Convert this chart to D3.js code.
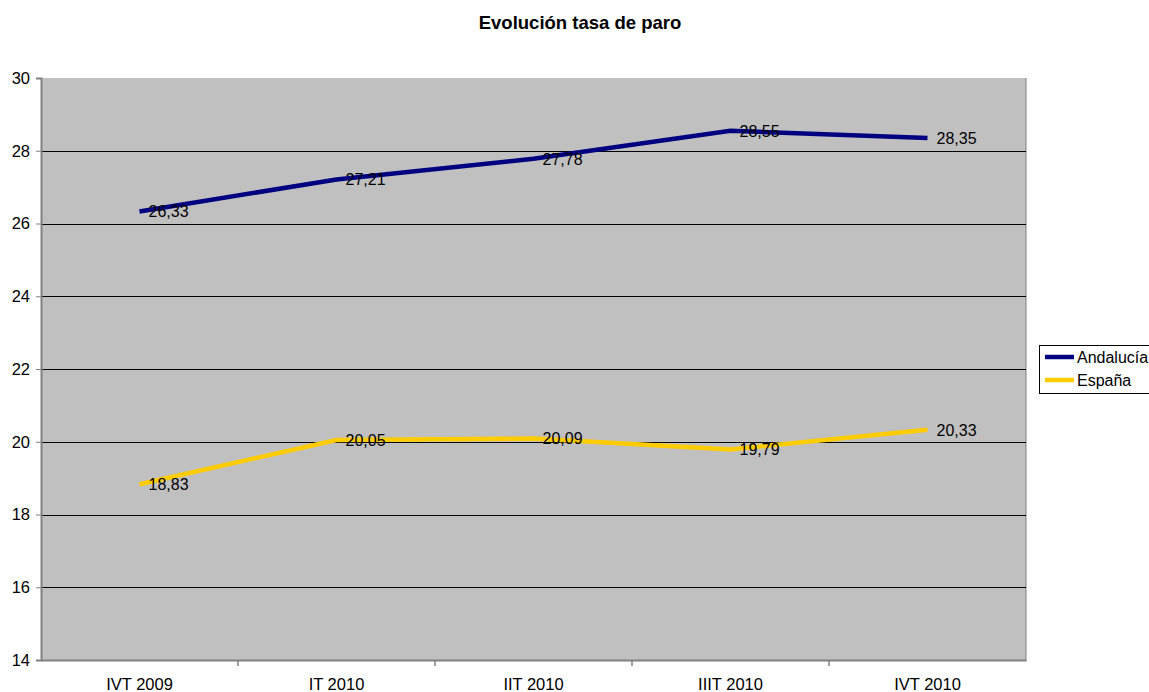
<!DOCTYPE html>
<html><head><meta charset="utf-8">
<script src="https://cdn.jsdelivr.net/npm/d3@7"></script>
<style>body{margin:0;background:#fff;font-family:"Liberation Sans",Arial,sans-serif;}</style>
</head><body><svg id="c" width="1149" height="692"></svg>
<script>
const categories = ["IVT 2009","IT 2010","IIT 2010","IIIT 2010","IVT 2010"];
const andalucia = [26.33,27.21,27.78,28.55,28.35];
const espana = [18.83,20.05,20.09,19.79,20.33];
const yTicks = [14,16,18,20,22,24,26,28,30];
const seriesNames = ["Andalucía","España"];
const colors = ["#000080","#FFCC00"];

const svg = d3.select("#c");
const L=41, R=1026, T=78, B=660;
const x = d3.scaleBand().domain(categories).range([L,R]);
const y = d3.scaleLinear().domain([14,30]).range([B,T]);
const f = "Liberation Sans, Arial, sans-serif";

svg.append("text").attr("x",580).attr("y",29).attr("text-anchor","middle")
  .attr("font-family",f).attr("font-size",18.5).attr("font-weight","bold").text("Evolución tasa de paro");

svg.append("rect").attr("x",L).attr("y",T).attr("width",R-L).attr("height",B-T).attr("fill","#C0C0C0");
svg.append("line").attr("x1",R).attr("x2",R).attr("y1",T).attr("y2",B).attr("stroke","#808080").attr("stroke-width",1);

// grid
svg.append("g").selectAll("line").data(yTicks.filter(d=>d>14&&d<30)).join("line")
  .attr("x1",L).attr("x2",R).attr("y1",d=>Math.round(y(d))+0.5).attr("y2",d=>Math.round(y(d))+0.5)
  .attr("stroke","#000").attr("stroke-width",1);

// y axis
const ya = svg.append("g").attr("transform",`translate(${L},0)`)
  .call(d3.axisLeft(y).tickValues(yTicks).tickSize(5).tickPadding(6).tickFormat(d3.format("d")));
ya.select(".domain").attr("stroke","#808080").attr("stroke-width",2);
ya.selectAll(".tick line").attr("stroke","#808080");
ya.selectAll("text").attr("font-family",f).attr("font-size",16.5).attr("fill","#000");

// x axis
const xa = svg.append("g").attr("transform",`translate(0,${B})`)
  .call(d3.axisBottom(x).tickSize(0).tickPadding(18));
xa.select(".domain").attr("stroke","#808080").attr("stroke-width",2);
xa.selectAll("text").attr("font-family",f).attr("font-size",16.5).attr("fill","#000");
svg.append("g").selectAll("line").data(categories.slice(1)).join("line")
  .attr("x1",d=>x(d)).attr("x2",d=>x(d)).attr("y1",B).attr("y2",B+6).attr("stroke","#808080").attr("stroke-width",1.5);

const line = d3.line().x((d,i)=>x(categories[i])+x.bandwidth()/2).y(d=>y(d));
[andalucia,espana].forEach((s,k)=>{
  svg.append("path").datum(s).attr("d",line).attr("fill","none").attr("stroke",colors[k]).attr("stroke-width",4.5);
  svg.append("g").selectAll("text").data(s).join("text")
    .attr("x",(d,i)=>x(categories[i])+x.bandwidth()/2+9).attr("y",d=>y(d)+6)
    .attr("font-family",f).attr("font-size",16).attr("fill","#000")
    .text(d=>d3.format(".2f")(d).replace(".",","));
});

// legend
const lg = svg.append("g");
lg.append("rect").attr("x",1039.5).attr("y",345.5).attr("width",120).attr("height",48).attr("fill","#fff").attr("stroke","#000");
seriesNames.forEach((n,k)=>{
  const yy = 357 + k*23;
  lg.append("line").attr("x1",1045).attr("x2",1074).attr("y1",yy).attr("y2",yy).attr("stroke",colors[k]).attr("stroke-width",4.5);
  lg.append("text").attr("x",1077).attr("y",yy+5.5).attr("font-family",f).attr("font-size",16).text(n);
});
</script></body></html>
